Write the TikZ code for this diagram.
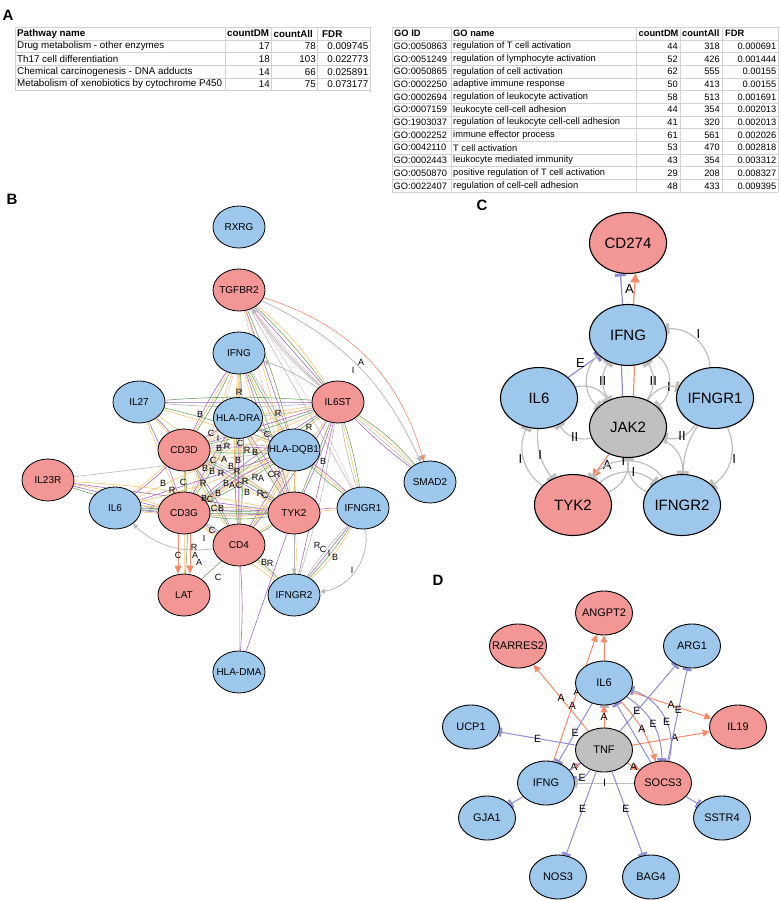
\documentclass[tikz,border=0pt]{standalone}
\usepackage{fontspec}
\setmainfont{Liberation Sans}
\usetikzlibrary{shapes.geometric,arrows.meta}
\pgfdeclarelayer{bg}
\pgfsetlayers{bg,main}
\definecolor{nblue}{RGB}{158,199,236}
\definecolor{nred}{RGB}{242,150,150}
\definecolor{ngray}{RGB}{192,192,192}
\definecolor{eora}{RGB}{248,138,105}
\definecolor{eblu}{RGB}{140,140,215}
\definecolor{egry}{RGB}{190,190,190}
\definecolor{cpur}{RGB}{168,105,190}
\definecolor{cgrn}{RGB}{112,168,100}
\definecolor{cyel}{RGB}{252,196,112}
\definecolor{cgry}{RGB}{185,185,185}
\definecolor{cpnk}{RGB}{246,196,206}
\definecolor{gridc}{RGB}{210,210,210}
\newcommand\zb[1]{\makebox[0pt]{#1}}
\newcommand\bund[3]{%
 \foreach \cc [count=\ii] in {#3}{%
  \pgfmathsetmacro\bnd{mod(\ii,2)==0 ? \ii*2 : -(\ii-1)*2}%
  \draw[eB,draw=\cc] (#1) to[bend left=\bnd] (#2);}}
\tikzset{
 gridl/.style={gridc,line width=0.6pt},
 th/.style={font=\bfseries\fontsize{9.8}{11}\selectfont,inner sep=0pt,anchor=west},
 td/.style={font=\fontsize{9.8}{11}\selectfont,inner sep=0pt},
 thg/.style={font=\bfseries\fontsize{9.3}{11}\selectfont,inner sep=0pt,anchor=west},
 tdg/.style={font=\fontsize{9.3}{11}\selectfont,inner sep=0pt},
 plab/.style={font=\bfseries\fontsize{15}{15}\selectfont,inner sep=0pt},
 bN/.style={ellipse,draw=black,line width=0.8pt,minimum width=52,minimum height=42,inner sep=0pt,font=\fontsize{10}{12}\selectfont},
 bB/.style={bN,fill=nblue}, bR/.style={bN,fill=nred},
 cN/.style={ellipse,draw=black,line width=1.1pt,minimum width=77,minimum height=61,inner sep=0pt,font=\fontsize{15}{18}\selectfont},
 cB/.style={cN,fill=nblue}, cR/.style={cN,fill=nred}, cG/.style={cN,fill=ngray},
 dN/.style={ellipse,draw=black,line width=0.9pt,minimum width=57,minimum height=44,inner sep=0pt,font=\fontsize{11}{13}\selectfont},
 dB/.style={dN,fill=nblue}, dR/.style={dN,fill=nred}, dG/.style={dN,fill=ngray},
 eB/.style={line width=0.6pt},
 bGa/.style={cgry,line width=0.8pt,-{Triangle[length=5pt,width=5pt]}},
 bRa/.style={eora,line width=0.9pt,-{Triangle[length=8pt,width=7pt]}},
 cI/.style={egry,line width=1.2pt,-{Rectangle[length=3pt,width=11pt]}},
 cE/.style={eblu,line width=1.2pt,-{Rectangle[length=3pt,width=11pt]}},
 cA/.style={eora,line width=1.2pt,-{Triangle[length=9pt,width=9pt]}},
 cPl/.style={line width=1.2pt},
 dA/.style={eora,line width=1pt,-{Triangle[length=7pt,width=7pt]}},
 dE/.style={eblu,line width=1pt,-{Rectangle[length=2.5pt,width=9pt]}},
 dI/.style={egry,line width=1pt,-{Rectangle[length=2.5pt,width=9pt]}},
 dEp/.style={eblu,line width=1pt},
 lbB/.style={text=black,font=\fontsize{9}{9}\selectfont,inner sep=0pt},
 lbC/.style={text=black,font=\fontsize{13}{13}\selectfont,inner sep=0pt},
 lbD/.style={text=black,font=\fontsize{10.5}{10.5}\selectfont,inner sep=0pt},
}
\begin{document}
\begin{tikzpicture}[x=1pt,y=-1pt]
\useasboundingbox (0,0) rectangle (780,900);
% ---------- panel labels
\node[plab] (pA) at (8,15) {A};
\node[plab] (pB) at (12,199) {B};
\node[plab] (pC) at (482,205) {C};
\node[plab] (pD) at (438,580) {D};
% ---------- table 1
\foreach \k in {0,...,5} \draw[gridl] (15,{27.3+\k*12.68}) -- (370,{27.3+\k*12.68});
\foreach \xx in {15,225,271.7,317.7,370} \draw[gridl] (\xx,27.3) -- (\xx,90.7);
\node[th] (ph1) at (17,33.64) {Pathway name};
\node[th] (ph2) at (227,33.64) {countDM};
\node[th] (ph3) at (273.5,33.64) {countAll};
\node[th] (ph4) at (322,33.64) {FDR};
\foreach \n/\va/\vb/\vc [count=\i] in {Drug metabolism - other enzymes/17/78/0.009745,Th17 cell differentiation/18/103/0.022773,Chemical carcinogenesis - DNA adducts/14/66/0.025891,Metabolism of xenobiotics by cytochrome P450/14/75/0.073177}{
 \pgfmathsetmacro\yy{33.64+\i*12.68}
 \node[td,anchor=west] (pn\i) at (17,\yy) {\n};
 \node[td,anchor=east] (pd\i) at (270,\yy) {\va};
 \node[td,anchor=east] (pl\i) at (316,\yy) {\vb};
 \node[td,anchor=east] (pf\i) at (368.5,\yy) {\vc};
}
% ---------- table 2
\foreach \k in {0,...,13} \draw[gridl] (392,{27.3+\k*12.68}) -- (778,{27.3+\k*12.68});
\foreach \xx in {392,451,636,680,722,778} \draw[gridl] (\xx,27.3) -- (\xx,192.1);
\node[thg] (gh1) at (394,33.64) {GO ID};
\node[thg] (gh2) at (453,33.64) {GO name};
\node[thg] (gh3) at (638.5,33.64) {countDM};
\node[thg] (gh4) at (682,33.64) {countAll};
\node[thg] (gh5) at (725,33.64) {FDR};
\foreach \g/\n/\va/\vb/\vc [count=\i] in {GO:0050863/regulation of T cell activation/44/318/0.000691,GO:0051249/regulation of lymphocyte activation/52/426/0.001444,GO:0050865/regulation of cell activation/62/555/0.00155,GO:0002250/adaptive immune response/50/413/0.00155,GO:0002694/regulation of leukocyte activation/58/513/0.001691,GO:0007159/leukocyte cell-cell adhesion/44/354/0.002013,GO:1903037/regulation of leukocyte cell-cell adhesion/41/320/0.002013,GO:0002252/immune effector process/61/561/0.002026,GO:0042110/T cell activation/53/470/0.002818,GO:0002443/leukocyte mediated immunity/43/354/0.003312,GO:0050870/positive regulation of T cell activation/29/208/0.008327,GO:0022407/regulation of cell-cell adhesion/48/433/0.009395}{
 \pgfmathsetmacro\yy{33.64+\i*12.68}
 \node[tdg,anchor=west] (gi\i) at (393.5,\yy) {\g};
 \node[tdg,anchor=west] (gn\i) at (453,\yy) {\n};
 \node[tdg,anchor=east] (gd\i) at (678,\yy) {\va};
 \node[tdg,anchor=east] (gl\i) at (720,\yy) {\vb};
 \node[tdg,anchor=east] (gf\i) at (776.5,\yy) {\vc};
}
% ---------- panel B nodes
\node[bB] (rxrg) at (239,227) {\zb{RXRG}};
\node[bR] (tgf) at (239,290) {\zb{TGFBR2}};
\node[bB] (bifng) at (239,353) {\zb{IFNG}};
\node[bB] (il27) at (139,402) {\zb{IL27}};
\node[bB,minimum width=49,minimum height=41] (hdra) at (238,418) {\zb{HLA-DRA}};
\node[bR] (il6st) at (338,402) {\zb{IL6ST}};
\node[bR] (cd3d) at (184,450) {\zb{CD3D}};
\node[bB] (hdqb) at (294,450) {\zb{HLA-DQB1}};
\node[bR] (il23r) at (48,480) {\zb{IL23R}};
\node[bB] (bil6) at (115,508) {\zb{IL6}};
\node[bR] (cd3g) at (184,513) {\zb{CD3G}};
\node[bR] (btyk) at (294,513) {\zb{TYK2}};
\node[bB] (bgr1) at (363,508) {\zb{IFNGR1}};
\node[bR] (bcd4) at (239,545) {\zb{CD4}};
\node[bR] (lat) at (184,595) {\zb{LAT}};
\node[bB] (bgr2) at (294,595) {\zb{IFNGR2}};
\node[bB] (hdma) at (239,672) {\zb{HLA-DMA}};
\node[bB] (smad2) at (430,482) {\zb{SMAD2}};
% ---------- panel C nodes
\node[cR] (c274) at (628,243) {\zb{CD274}};
\node[cB] (cifng) at (628,335) {\zb{IFNG}};
\node[cB] (cil6) at (539,398) {\zb{IL6}};
\node[cB] (cgr1) at (715,398) {\zb{IFNGR1}};
\node[cG] (jak2) at (628,427) {\zb{JAK2}};
\node[cR] (ctyk) at (573,505) {\zb{TYK2}};
\node[cB] (cgr2) at (682,505) {\zb{IFNGR2}};
% ---------- panel D nodes
\node[dR] (angpt2) at (604,613) {\zb{ANGPT2}};
\node[dR] (rarres2) at (518,646) {\zb{RARRES2}};
\node[dB] (arg1) at (692,646) {\zb{ARG1}};
\node[dB] (dil6) at (604,683) {\zb{IL6}};
\node[dB] (ucp1) at (471,727) {\zb{UCP1}};
\node[dR] (il19) at (738,727) {\zb{IL19}};
\node[dG] (tnf) at (604,750) {\zb{TNF}};
\node[dB] (difng) at (546,783) {\zb{IFNG}};
\node[dR] (socs3) at (663,783) {\zb{SOCS3}};
\node[dB] (gja1) at (487,818) {\zb{GJA1}};
\node[dB] (sstr4) at (722,818) {\zb{SSTR4}};
\node[dB] (nos3) at (558,877) {\zb{NOS3}};
\node[dB] (bag4) at (651,877) {\zb{BAG4}};
% ---------- panel B labels
\foreach \t/\x/\y [count=\i] in {R/239/392,B/200/414,R/278/413,C/211/433,I/218/438,R/309/427,C/267/434,A/361/362,I/353/370,B/219/448,R/227/446,C/240/443,R/247/450,B/238/460,B/255/452,B/323/461,C/213/460,A/224/459,B/205/468,B/212/471,R/221/473,B/231/466,B/247/492,R/237/471,B/163/483,C/183/482,R/172/490,R/203/483,B/226/483,A/232/485,C/239/485,R/245/481,R/255/477,A/261/478,C/271/474,R/277/474,R/260/493,C/265/495,B/204/498,C/210/499,B/218/493,C/214/508,B/221/508,C/212/530,I/204/538,R/194/547,A/195/555,A/199/562,C/178/555,C/218/577,B/264/562,R/270/563,R/317/545,C/323/549,I/329/553,B/335/557,I/352/570}
 \node[lbB] (bl\i) at (\x,\y) {\t};
% ================= edges
\begin{pgfonlayer}{bg}
% ---- B bundles
\bund{tgf}{il6st}{cpur,cgrn,cpnk,cyel,cgry}
\bund{tgf}{hdqb}{cpur,cgrn}
\bund{tgf}{btyk}{cpnk,cyel}
\bund{tgf}{bgr1}{cgry,cpnk}
\bund{bifng}{cd3d}{cyel,cgrn,cpur}
\bund{bifng}{hdra}{cyel,cgry}
\bund{bifng}{bcd4}{cyel,cgrn,cyel}
\bund{bifng}{btyk}{cpur,cgrn,cyel}
\bund{bifng}{hdqb}{cgrn,cgry,cyel}
\bund{bifng}{cd3g}{cyel,cpnk}
\bund{il27}{il6st}{cpur,cgrn,cgry}
\bund{il27}{hdqb}{cyel,cgrn}
\bund{il27}{cd3d}{cyel,cpur}
\bund{il27}{cd3g}{cyel,cpur}
\bund{il27}{btyk}{cyel}
\bund{il6st}{cd3d}{cpur,cgrn,cyel}
\bund{il6st}{hdra}{cyel,cgry}
\bund{il6st}{cd3g}{cgrn,cyel,cpur}
\bund{il6st}{bcd4}{cyel,cpur}
\bund{il6st}{btyk}{cgrn,cpur}
\bund{il6st}{bgr1}{cyel,cgrn,cgry}
\bund{il6st}{bgr2}{cpur,cgry}
\bund{il6st}{smad2}{cgry,cyel,cpur,cgrn}
\bund{hdra}{cd3d}{cpur,cyel}
\bund{hdra}{hdqb}{cpur,cgrn}
\bund{hdra}{cd3g}{cyel,cgrn,cpur}
\bund{hdra}{btyk}{cyel,cpur,cgrn}
\bund{hdra}{bcd4}{cpur,cyel,cgrn}
\bund{cd3d}{hdqb}{cyel,cpur,cgrn,cgry}
\bund{cd3d}{cd3g}{cgrn,cyel}
\bund{cd3d}{btyk}{cpur,cgrn,cyel,cgry}
\bund{cd3d}{bcd4}{cgrn,cpur,cyel}
\bund{cd3d}{lat}{cyel,cgrn}
\bund{cd3d}{bil6}{cyel,cpur}
\bund{hdqb}{cd3g}{cyel,cgrn,cpur}
\bund{hdqb}{btyk}{cgrn,cyel}
\bund{hdqb}{bcd4}{cpur,cyel}
\bund{hdqb}{bgr1}{cyel,cpur,cgrn}
\bund{hdqb}{bil6}{cpur,cyel}
\bund{hdqb}{bgr2}{cyel}
\bund{il23r}{cd3g}{cpur,cyel,cgrn}
\bund{il23r}{btyk}{cpur,cyel}
\bund{il23r}{hdqb}{cgry}
\bund{bil6}{cd3g}{cgrn,cpur,cyel}
\bund{bil6}{btyk}{cgrn,cyel,cpur}
\bund{bil6}{il6st}{cyel}
\bund{cd3g}{btyk}{cgrn,cpur,cyel,cgry,cgrn}
\bund{cd3g}{bcd4}{cpur,cgrn,cyel}
\bund{cd3g}{bgr2}{cyel}
\bund{bcd4}{lat}{cgrn}
\bund{bcd4}{hdma}{cyel,cpur}
\bund{bcd4}{btyk}{cgrn,cyel}
\bund{bcd4}{bgr2}{cyel,cgrn}
\bund{btyk}{hdma}{cpur}
\bund{btyk}{bgr2}{cgrn,cyel}
\bund{btyk}{bgr1}{cyel,cpur}
\bund{bgr1}{bgr2}{cpur,cgrn,cgry,cyel}
\draw[bGa] (il6st) to[bend left=6] (tgf);
\draw[bGa] (il6st) to[bend right=8] (bifng);
\draw[bGa] (bcd4) to[bend left=25] (bil6);
\draw[bGa] (btyk) -- (bgr2);
\draw[bGa] (bgr1) to[bend left=45] (bgr2);
\draw[eB,draw=eora,-{Triangle[length=6pt,width=6pt]}] (tgf) to[bend left=28] (smad2);
\draw[bGa] (tgf) to[bend left=20] (smad2);
\draw[bRa] ([xshift=-6]cd3g.south) -- ([xshift=-6]lat.north);
\draw[bRa] ([xshift=6]cd3g.south) -- ([xshift=6]lat.north);
% ---- C edges
\draw[cE] (cifng.100) -- (c274.256);
\draw[cA] (cifng.80) -- node[lbC,xshift=-5]{A} (c274.284);
\draw[cPl,eblu] (cifng.258) -- (jak2.100);
\draw[cPl,eora] (cifng.282) -- (jak2.80);
\draw[cE] (cil6) -- node[lbC,pos=0.4,above=1pt]{E} (cifng);
\draw[cI] (cgr1) to[bend right=45] node[lbC,pos=0.5,above right=0pt]{I} (cifng);
\draw[cI] (jak2) to[bend left=35] node[lbC,pos=0.5]{II} (cifng);
\draw[cI] (cifng) to[bend right=55] (jak2);
\draw[cI] (jak2) to[bend right=35] node[lbC,pos=0.5]{II} (cifng);
\draw[cI] (cifng) to[bend left=55] node[lbC,pos=0.6]{I} (jak2);
\draw[cI] (cil6) to[bend left=35] (jak2);
\draw[cI] (jak2) to[bend left=35] node[lbC,pos=0.45]{II} (cil6);
\draw[cI] (jak2) to[bend left=35] (cgr1);
\draw[cI] (cgr1) to[bend left=35] node[lbC,pos=0.5]{II} (jak2);
\draw[cI] (ctyk) to[bend left=40] node[lbC,pos=0.5,left=1pt]{I} (cil6);
\draw[cI] (cil6) to[bend right=20] node[lbC,pos=0.5]{I} (ctyk);
\draw[cI] (ctyk) to[bend right=35] (jak2);
\draw[cA] (jak2) -- node[lbC,pos=0.45,right=1pt]{A} (ctyk);
\draw[cI] (cgr2) to[bend left=35] (jak2);
\draw[cI] (jak2) to[bend left=35] (cgr2);
\draw[cI] (cgr1) to[bend left=40] node[lbC,pos=0.5,right=1pt]{I} (cgr2);
\draw[cI] (cgr1) to[bend right=15] (cgr2);
\draw[cI] (ctyk) to[bend left=40] node[lbC,pos=0.6]{I} (cgr2);
\draw[cI] (cgr2) to[bend right=55] node[lbC,pos=0.55]{I} (ctyk);
% ---- D edges
\draw[dA] (tnf) -- node[lbD,pos=0.5]{A} (rarres2);
\draw[dA] (difng) -- node[lbD,pos=0.55]{A} node[lbD,pos=0.44]{A} (angpt2);
\draw[dA] (difng) -- node[lbD,pos=0.4]{A} (tnf);
\draw[dA] (dil6) -- (angpt2);
\draw[dI] (tnf) -- (dil6);
\draw[dA] (tnf) -- node[lbD]{A} (dil6);
\draw[dA] (dil6) -- node[lbD,pos=0.5]{A} (il19);
\draw[dA] (tnf) -- node[lbD,pos=0.55]{A} (il19);
\draw[dA] (dil6) to[bend left=12] node[lbD,pos=0.5]{A} (socs3);
\draw[dA] (tnf) -- node[lbD]{A} (socs3);
\draw[dE] (tnf) -- node[lbD,pos=0.5]{E} (ucp1);
\draw[dE] (tnf) -- node[lbD,pos=0.3]{E} (arg1);
\draw[dE] (socs3) -- node[lbD,pos=0.55]{E} (arg1);
\draw[dE] (dil6) to[bend left=28] node[lbD,pos=0.5]{E} (socs3);
\draw[dE] (socs3) to[bend right=45] node[lbD,pos=0.45]{E} (dil6);
\draw[dE] (socs3) -- (dil6);
\draw[dE] (dil6) -- node[lbD,pos=0.5]{E} (difng);
\draw[dEp] (tnf) -- (difng);
\draw[dE] (tnf) to[bend left=25] node[lbD,pos=0.6]{E} (difng);
\draw[dI] (socs3) -- node[lbD,pos=0.5]{I} (difng);
\draw[dE] (difng) -- (gja1);
\draw[dE] (socs3) -- (sstr4);
\draw[dE] (tnf) -- node[lbD,pos=0.45]{E} (nos3);
\draw[dE] (tnf) -- node[lbD,pos=0.45]{E} (bag4);
\end{pgfonlayer}
\end{tikzpicture}
\end{document}
